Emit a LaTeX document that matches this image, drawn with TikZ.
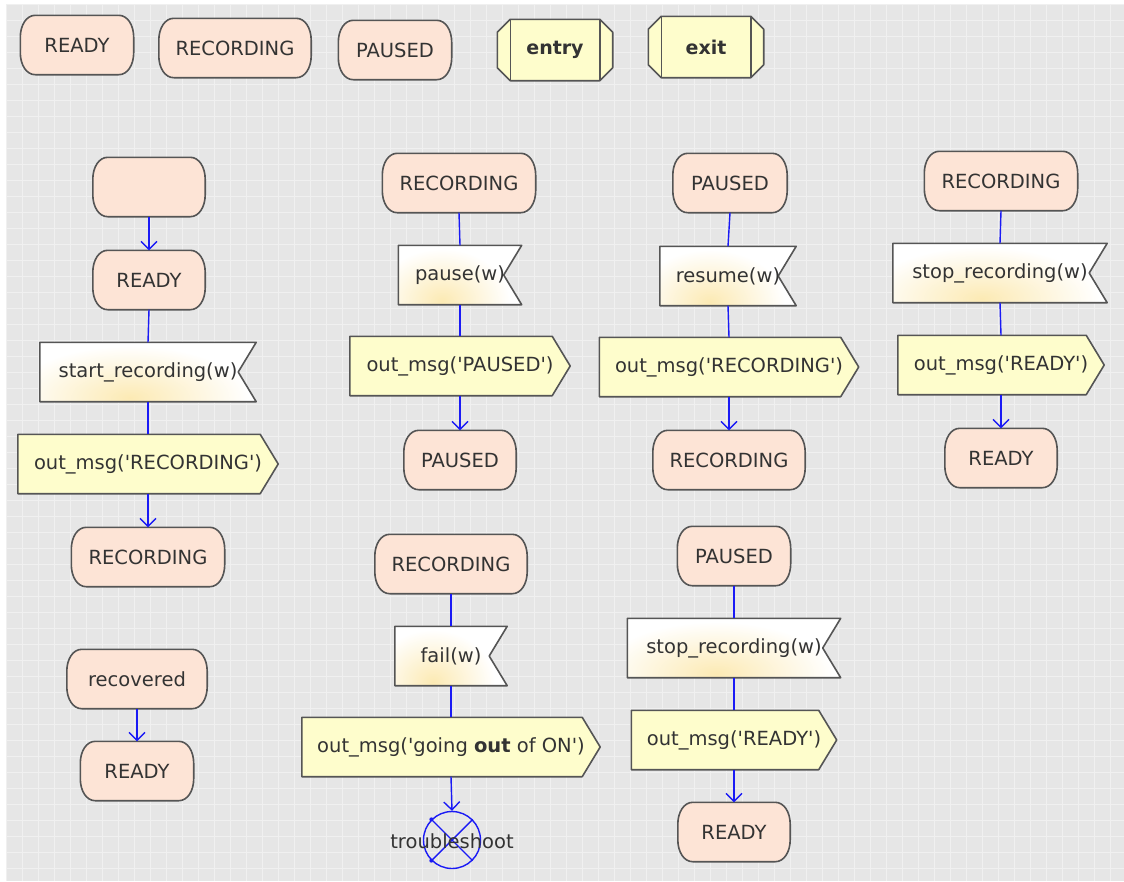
\documentclass[tikz,border=0pt]{standalone}
\usepackage{fontspec}
\setmainfont{DejaVu Sans}
\usetikzlibrary{arrows.meta,calc}

\definecolor{bggray}{HTML}{E6E6E6}
\definecolor{gridln}{HTML}{F0F0F0}
\definecolor{statefill}{HTML}{FDE4D6}
\definecolor{msgfill}{HTML}{FEFDCC}
\definecolor{edge}{HTML}{555555}
\definecolor{txt}{HTML}{333333}
\definecolor{flow}{HTML}{1A1AF5}
\definecolor{glow}{HTML}{FCEAB4}

\pgfdeclarelayer{grid}
\pgfdeclarelayer{shapes}
\pgfsetlayers{grid,shapes,main}

\newcommand\sq{\textquotesingle}

\tikzset{
  lbl/.style={font=\fontsize{19.5}{22}\selectfont, text=txt, inner sep=0pt, rectangle},
  box/.style 2 args={lbl, minimum width=#1, minimum height=#2},
  outline/.style={draw=edge, line width=1.6pt, line join=round},
  stateshp/.style={outline, fill=statefill},
  msgshp/.style={outline, fill=msgfill},
  flowline/.style={draw=flow, line width=1.4pt},
  flowarrow/.style={flowline, -{Straight Barb[length=8pt,width=16pt]}},
}

% state: rounded box with elliptic corners
\newcommand\statenode[5]{%
  \node[box={#4pt}{59pt}] (#1) at (#2,#3) {#5};
  \begin{pgfonlayer}{shapes}
    \path[stateshp]
      ([xshift=15pt]#1.north west) -- ([xshift=-15pt]#1.north east)
      .. controls ([xshift=-6pt]#1.north east) and ([yshift=-10pt]#1.north east) .. ([yshift=-22pt]#1.north east)
      -- ([yshift=22pt]#1.south east)
      .. controls ([yshift=10pt]#1.south east) and ([xshift=-6pt]#1.south east) .. ([xshift=-15pt]#1.south east)
      -- ([xshift=15pt]#1.south west)
      .. controls ([xshift=6pt]#1.south west) and ([yshift=10pt]#1.south west) .. ([yshift=22pt]#1.south west)
      -- ([yshift=-22pt]#1.north west)
      .. controls ([yshift=-10pt]#1.north west) and ([xshift=6pt]#1.north west) .. cycle;
  \end{pgfonlayer}}

% input signal: box with a notch on the right
\newcommand\innode[5]{%
  \node[box={#4pt}{59pt}] (#1) at (#2,#3) {#5};
  \begin{pgfonlayer}{shapes}
    \fill[white] (#1.north west) -- (#1.north east) -- ([xshift=-18pt]#1.east)
      -- (#1.south east) -- (#1.south west) -- cycle;
    \begin{scope}
      \clip (#1.north west) -- (#1.north east) -- ([xshift=-18pt]#1.east)
        -- (#1.south east) -- (#1.south west) -- cycle;
      \shade[inner color=glow, outer color=white]
        ([xshift=-18pt,yshift=4pt]#1.south) ellipse [x radius={0.55*#4pt}, y radius=52pt];
    \end{scope}
    \draw[outline] (#1.north west) -- (#1.north east) -- ([xshift=-18pt]#1.east)
      -- (#1.south east) -- (#1.south west) -- cycle;
  \end{pgfonlayer}}

% output signal: box pointing right
\newcommand\outnode[5]{%
  \node[box={#4pt}{59pt}] (#1) at (#2,#3) {#5};
  \begin{pgfonlayer}{shapes}
    \path[msgshp] (#1.north west) -- ([xshift=-18pt]#1.north east) -- (#1.east)
      -- ([xshift=-18pt]#1.south east) -- (#1.south west) -- cycle;
  \end{pgfonlayer}}

% procedure entry / exit frame
\newcommand\framenode[4]{%
  \node[box={115pt}{61pt}, font=\fontsize{19}{22}\selectfont\bfseries] (#1) at (#2,#3) {#4};
  \begin{pgfonlayer}{shapes}
    \path[msgshp] ([xshift=13pt]#1.north west) -- ([xshift=-13pt]#1.north east)
      -- ([yshift=-13pt]#1.north east) -- ([yshift=13pt]#1.south east)
      -- ([xshift=-13pt]#1.south east) -- ([xshift=13pt]#1.south west)
      -- ([yshift=13pt]#1.south west) -- ([yshift=-13pt]#1.north west) -- cycle;
    \draw[outline] ([xshift=13pt]#1.north west) -- ([xshift=13pt]#1.south west);
    \draw[outline] ([xshift=-13pt]#1.north east) -- ([xshift=-13pt]#1.south east);
  \end{pgfonlayer}}

\begin{document}
\begin{tikzpicture}[x=1pt,y=-1pt]
  \useasboundingbox (0,0) rectangle (1124,881);
  \begin{pgfonlayer}{grid}
    \fill[white] (0,0) rectangle (1124,881);
    \fill[bggray] (6,4) rectangle (1124,881);
    \foreach \gx in {6,22,...,1124} \draw[gridln, line width=1pt] (\gx,4) -- (\gx,881);
    \foreach \gy in {4,20,...,881} \draw[gridln, line width=1pt] (6,\gy) -- (1124,\gy);
  \end{pgfonlayer}

  % legend row
  \statenode{lgready}{77}{45}{113}{READY}
  \statenode{lgrec}{235}{48}{152}{RECORDING}
  \statenode{lgpaused}{395}{50}{113}{PAUSED}
  \framenode{lgentry}{555}{50}{entry}
  \framenode{lgexit}{706}{47}{exit}

  % start transition
  \statenode{start}{149}{187}{112}{}
  \statenode{rdyA}{149}{280}{112}{READY}
  \innode{startrec}{148}{372}{216}{start\_recording(w)}
  \outnode{msgrec}{148}{464}{260}{out\_msg(\sq RECORDING\sq)}
  \statenode{recA}{148}{557}{153}{RECORDING}

  \statenode{recov}{137}{679}{140}{recovered}
  \statenode{rdyB}{137}{771}{113}{READY}

  % RECORDING --pause--> PAUSED
  \statenode{recB}{459}{183}{153}{RECORDING}
  \innode{pause}{460}{275}{123}{pause(w)}
  \outnode{msgpaused}{460}{366}{220}{out\_msg(\sq PAUSED\sq)}
  \statenode{pauA}{460}{460}{112}{PAUSED}

  % RECORDING --fail--> troubleshoot
  \statenode{recC}{451}{564}{152}{RECORDING}
  \innode{fail}{451}{656}{112}{fail(w)}
  \outnode{msgout}{451}{747}{298}{out\_msg(\sq going \textbf{out} of ON\sq)}
  \node[circle, draw=flow, line width=1.4pt, minimum size=57pt, inner sep=0pt] (trbl) at (452,840) {};
  \draw[flowline] (trbl.north west) -- (trbl.south east);
  \draw[flowline] (trbl.south west) -- (trbl.north east);
  \fill[flow] (trbl.north west) circle[radius=2pt];
  \fill[flow] (trbl.south west) circle[radius=2pt];
  \node[lbl] (trbllbl) at (452,841) {troubleshoot};

  % PAUSED --resume--> RECORDING
  \statenode{pauB}{730}{183}{114}{PAUSED}
  \innode{resume}{728}{276}{136}{resume(w)}
  \outnode{msgrecB}{729}{367}{259}{out\_msg(\sq RECORDING\sq)}
  \statenode{recD}{729}{460}{152}{RECORDING}

  % PAUSED --stop--> READY
  \statenode{pauC}{734}{556}{113}{PAUSED}
  \innode{stopA}{734}{648}{213}{stop\_recording(w)}
  \outnode{msgrdyA}{734}{740}{205}{out\_msg(\sq READY\sq)}
  \statenode{rdyC}{734}{832}{112}{READY}

  % RECORDING --stop--> READY
  \statenode{recE}{1001}{181}{153}{RECORDING}
  \innode{stopB}{1000}{273}{214}{stop\_recording(w)}
  \outnode{msgrdyB}{1001}{365}{206}{out\_msg(\sq READY\sq)}
  \statenode{rdyD}{1001}{458}{112}{READY}

  % connectors
  \draw[flowarrow] (start.south) -- (rdyA.north);
  \draw[flowline] (rdyA.south) -- (startrec.north);
  \draw[flowline] (startrec.south) -- (msgrec.north);
  \draw[flowarrow] (msgrec.south) -- (recA.north);
  \draw[flowarrow] (recov.south) -- (rdyB.north);

  \draw[flowline] (recB.south) -- (pause.north);
  \draw[flowline] (pause.south) -- (msgpaused.north);
  \draw[flowarrow] (msgpaused.south) -- (pauA.north);

  \draw[flowline] (recC.south) -- (fail.north);
  \draw[flowline] (fail.south) -- (msgout.north);
  \draw[flowarrow] (msgout.south) -- (trbl.north);

  \draw[flowline] (pauB.south) -- (resume.north);
  \draw[flowline] (resume.south) -- (msgrecB.north);
  \draw[flowarrow] (msgrecB.south) -- (recD.north);

  \draw[flowline] (pauC.south) -- (stopA.north);
  \draw[flowline] (stopA.south) -- (msgrdyA.north);
  \draw[flowarrow] (msgrdyA.south) -- (rdyC.north);

  \draw[flowline] (recE.south) -- (stopB.north);
  \draw[flowline] (stopB.south) -- (msgrdyB.north);
  \draw[flowarrow] (msgrdyB.south) -- (rdyD.north);
\end{tikzpicture}
\end{document}
